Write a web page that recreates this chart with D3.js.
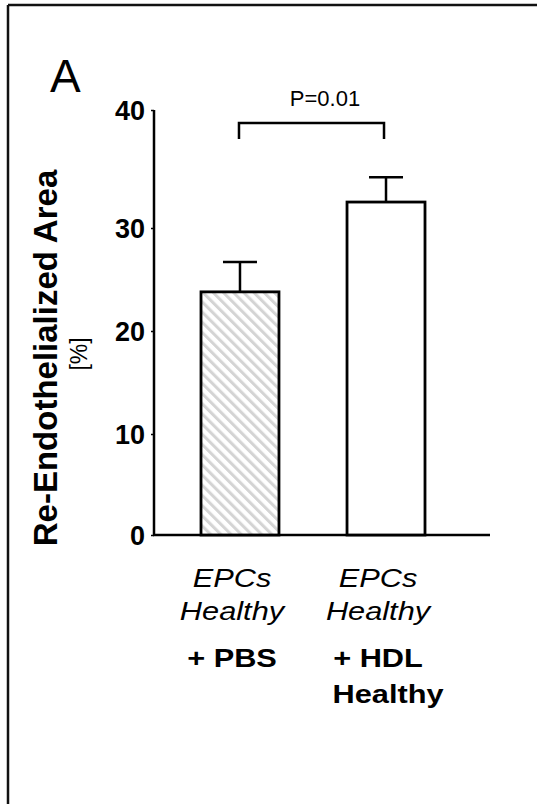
<!DOCTYPE html>
<html>
<head>
<meta charset="utf-8">
<script src="https://cdn.jsdelivr.net/npm/d3@7"></script>
<style>
  html, body { margin: 0; padding: 0; background: #fff; }
  svg { display: block; }
  text { font-family: Arial, "Liberation Sans", Helvetica, sans-serif; fill: #000; }
</style>
</head>
<body>
<svg id="chart" width="537" height="804"></svg>
<script>
// ---- data ----
const categories = ["PBS", "HDL"];
const means = [23.8, 32.2];
const errors = [2.9, 2.1];
const fills = ["hatch", "white"];
const italicLines = [["EPCs", "Healthy"], ["EPCs", "Healthy"]];
const boldLines = [["+ PBS"], ["+ HDL", "Healthy"]];
const yTicks = [0, 10, 20, 30, 40];
const yTitle = "Re-Endothelialized Area";
const yUnit = "[%]";
const panelLetter = "A";
const pValueText = "P=0.01";

// ---- drawing ----
const svg = d3.select("#chart");

// frame (left & top)
svg.append("line").attr("x1", 8).attr("x2", 8).attr("y1", 5).attr("y2", 804)
  .attr("stroke", "#111").attr("stroke-width", 2.5);
svg.append("line").attr("x1", 8).attr("x2", 537).attr("y1", 5).attr("y2", 5)
  .attr("stroke", "#111").attr("stroke-width", 2.5);

// hatch pattern
const defs = svg.append("defs");
const pat = defs.append("pattern")
  .attr("id", "hatch").attr("patternUnits", "userSpaceOnUse")
  .attr("width", 7.2).attr("height", 7.2)
  .attr("patternTransform", "rotate(-45)");
pat.append("rect").attr("width", 7.2).attr("height", 7.2).attr("fill", "#fff");
pat.append("line").attr("x1", 1.5).attr("x2", 1.5).attr("y1", 0).attr("y2", 7.2)
  .attr("stroke", "#d4d4d4").attr("stroke-width", 3);

// scales
const y = d3.scaleLinear().domain([0, 10, 20, 30, 40]).range([535, 434, 331, 228, 110]);
const x = d3.scaleBand().domain(categories).range([201, 425]).paddingInner(0.466).paddingOuter(0);

// panel letter
svg.append("text").attr("x", 50).attr("y", 92)
  .attr("font-size", 46).text(panelLetter);

// y axis
const yAxis = d3.axisLeft(y).tickValues(yTicks).tickSize(3).tickSizeOuter(0).tickPadding(6);
const gy = svg.append("g").attr("transform", "translate(154,0)").call(yAxis);
gy.select(".domain").remove();
gy.selectAll(".tick line").attr("stroke", "#000").attr("stroke-width", 1.5);
gy.selectAll(".tick text")
  .attr("font-size", 27).attr("font-weight", "bold")
  .attr("font-family", "Arial, 'Liberation Sans', sans-serif")
  .attr("fill", "#000").attr("dy", "0.36em");
svg.append("line").attr("x1", 154).attr("x2", 154)
  .attr("y1", y(40)).attr("y2", y(0))
  .attr("stroke", "#000").attr("stroke-width", 2.5);

// x axis line
svg.append("line").attr("x1", 153).attr("x2", 490)
  .attr("y1", y(0)).attr("y2", y(0))
  .attr("stroke", "#000").attr("stroke-width", 2.5);

// bars
categories.forEach((c, i) => {
  const bx = x(c), bw = x.bandwidth();
  const cx = bx + bw / 2;
  // error bar (upper only)
  svg.append("line").attr("x1", cx).attr("x2", cx)
    .attr("y1", y(means[i])).attr("y2", y(means[i] + errors[i]))
    .attr("stroke", "#000").attr("stroke-width", 2.5);
  svg.append("line").attr("x1", cx - 17).attr("x2", cx + 17)
    .attr("y1", y(means[i] + errors[i])).attr("y2", y(means[i] + errors[i]))
    .attr("stroke", "#000").attr("stroke-width", 2.5);
  svg.append("rect")
    .attr("x", bx).attr("y", y(means[i]))
    .attr("width", bw).attr("height", y(0) - y(means[i]))
    .attr("fill", fills[i] === "hatch" ? "url(#hatch)" : "#fff")
    .attr("stroke", "#000").attr("stroke-width", 2.8);
});

// significance bracket
const c0 = x(categories[0]) + x.bandwidth() / 2;
const c1 = x(categories[1]) + x.bandwidth() / 2;
const by = 123;
svg.append("path")
  .attr("d", `M${c0 - 1},${by + 16} V${by} H${c1 - 2} V${by + 16}`)
  .attr("fill", "none").attr("stroke", "#000").attr("stroke-width", 2.5);
svg.append("text").attr("x", (c0 + c1) / 2 + 12).attr("y", 106)
  .attr("text-anchor", "middle").attr("font-size", 22).text(pValueText);

// y title
svg.append("text")
  .attr("transform", "translate(57,358) rotate(-90)")
  .attr("text-anchor", "middle").attr("font-size", 33).attr("font-weight", "bold")
  .text(yTitle);
svg.append("text")
  .attr("transform", "translate(87,354) rotate(-90)")
  .attr("text-anchor", "middle").attr("font-size", 23)
  .text(yUnit);

// category labels
const italicBase = [587, 620];
const boldBase = [667, 703];
categories.forEach((c, i) => {
  const cx = x(c) + x.bandwidth() / 2 - 8;
  italicLines[i].forEach((t, j) => {
    svg.append("text")
      .attr("transform", `translate(${cx},${italicBase[j]}) scale(1.23,1)`)
      .attr("text-anchor", "middle").attr("font-size", 25).attr("font-style", "italic")
      .text(t);
  });
  boldLines[i].forEach((t, j) => {
    svg.append("text")
      .attr("transform", `translate(${cx + (j === 1 ? 10 : 0)},${boldBase[j]}) scale(1.23,1)`)
      .attr("text-anchor", "middle").attr("font-size", 25).attr("font-weight", "bold")
      .text(t);
  });
});
</script>
</body>
</html>
